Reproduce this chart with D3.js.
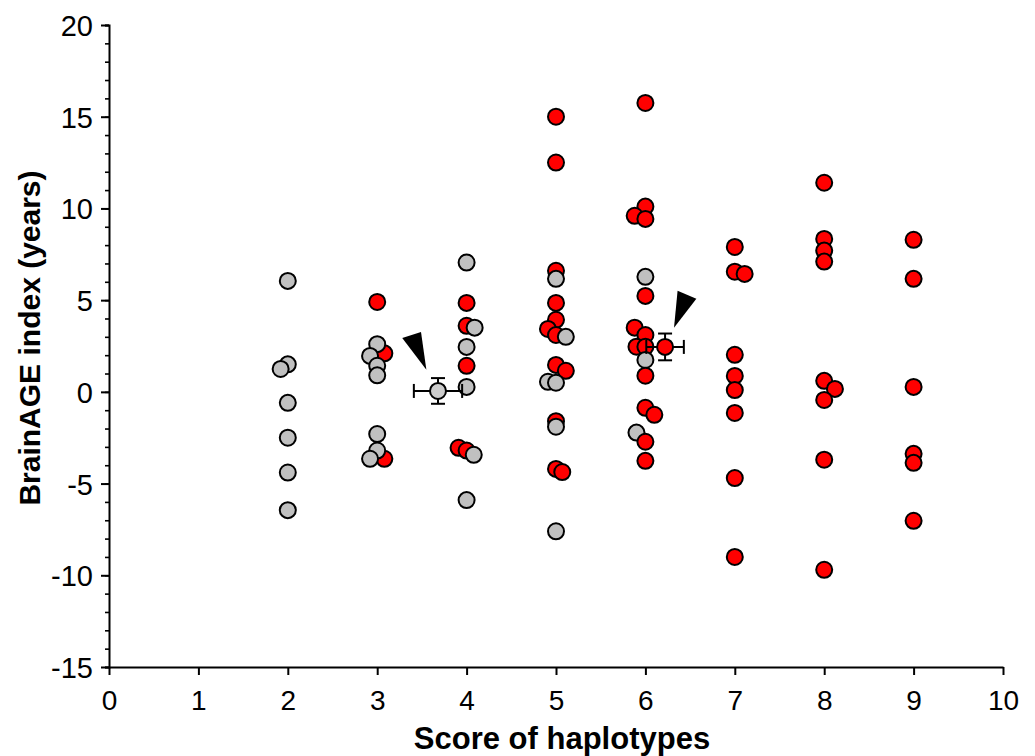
<!DOCTYPE html>
<html>
<head>
<meta charset="utf-8">
<script src="https://cdnjs.cloudflare.com/ajax/libs/d3/7.8.5/d3.min.js"></script>
<style>
  body { margin: 0; background: #fff; }
  svg { display: block; font-family: "Liberation Sans", Arial, sans-serif; }
</style>
</head>
<body>
<svg id="chart" width="1035" height="756"></svg>
<script>
// score of haplotypes (with the small horizontal jitter of the original plot)
var scores = [
  2, 2, 1.92, 2, 2, 2, 2,
  3, 3.08, 3, 2.92, 3, 3, 3.08, 3, 3, 2.92,
  4, 4, 4, 4.09, 4, 4, 4, 3.91, 4, 4.08, 4,
  5, 5, 5, 5, 5, 5, 4.91, 5, 5.11, 5, 5.11, 4.91, 5, 5, 5, 5, 5.07, 5,
  6, 6, 5.88, 6, 6, 6, 5.88, 6, 5.9, 6, 6, 6, 6, 6.1, 5.9, 6, 6,
  7, 7, 7.11, 7, 7, 7, 7, 7, 7,
  8, 8, 8, 8, 8, 8.12, 8, 8, 8,
  9, 9, 9, 9, 9, 9
];
// BrainAGE index (years)
var brainAge = [
  6.05, 1.5, 1.25, -0.6, -2.5, -4.4, -6.45,
  4.9, 2.1, 2.6, 1.96, 1.42, 0.9, -3.65, -2.3, -3.2, -3.65,
  7.05, 4.85, 3.6, 3.5, 2.45, 1.42, 0.27, -3.05, -3.2, -3.43, -5.9,
  15.0, 12.5, 6.6, 6.16, 4.85, 3.93, 3.43, 3.1, 3.0, 1.47, 1.15, 0.55, 0.5, -1.6, -1.9, -4.2, -4.37, -7.6,
  15.75, 10.1, 9.6, 9.43, 6.27, 5.23, 3.5, 3.1, 2.46, 2.46, 1.74, 0.88, -0.87, -1.25, -2.22, -2.72, -3.76,
  7.9, 6.55, 6.43, 2.02, 0.87, 0.1, -1.15, -4.7, -9.0,
  11.4, 8.34, 7.7, 7.1, 0.6, 0.16, -0.44, -3.7, -9.7,
  8.29, 6.16, 0.27, -3.38, -3.87, -7.03
];
// g = grey circles, r = red circles
var group = [
  "g","g","g","g","g","g","g",
  "r","r","g","g","g","g","r","g","g","g",
  "g","r","r","g","g","r","g","r","r","g","g",
  "r","r","r","g","r","r","r","r","g","r","r","g","g","r","g","r","r","g",
  "r","r","r","r","g","r","r","r","r","r","g","r","r","r","g","r","r",
  "r","r","r","r","r","r","r","r","r",
  "r","r","r","r","r","r","r","r","r",
  "r","r","r","r","r","r"
];

// group means with error (x, y, x error, y error)
var meanGroup = ["g", "r"];
var meanScore = [3.68, 6.22];
var meanAge = [0.05, 2.45];
var meanScoreErr = [0.27, 0.21];
var meanAgeErr = [0.7, 0.73];

// arrow-head annotations pointing at the means, [x, y] in data units
var arrows = [
  [[3.28, 2.94], [3.49, 3.27], [3.55, 1.2]],
  [[6.36, 5.51], [6.57, 5.07], [6.32, 3.49]]
];

var xTicks = [0, 1, 2, 3, 4, 5, 6, 7, 8, 9, 10];
var yTicks = [-15, -10, -5, 0, 5, 10, 15, 20];

var fillOf = { g: "#c0c0c0", r: "#ff0000" };
var fontFam = "'Liberation Sans', Arial, sans-serif";

var svg = d3.select("#chart");

var x = d3.scaleLinear().domain([0, 10]).range([109, 1003]);
var y = d3.scaleLinear().domain([-15, 20]).range([667, 25]);

// y axis: minor ticks every year, labelled majors every 5
var yMinor = d3.range(-15, 21, 1);
var yAxisG = svg.append("g").attr("transform", "translate(" + x(0) + ",0)");
yAxisG.call(d3.axisLeft(y).tickValues(yMinor).tickSize(4).tickFormat(""));
yAxisG.selectAll(".tick line").attr("stroke-width", 1.6);
yAxisG.select(".domain").attr("stroke-width", 2);

var yMajor = svg.append("g").attr("transform", "translate(" + x(0) + ",0)")
  .call(d3.axisLeft(y).tickValues(yTicks).tickSize(8).tickPadding(8));
yMajor.select(".domain").remove();
yMajor.selectAll(".tick line").attr("stroke-width", 2);
yMajor.selectAll(".tick text")
  .style("font-size", "29px").style("font-family", fontFam).attr("fill", "#000")
  .attr("dy", "0.36em")
  .text(function(d) { return d < 0 ? "-" + Math.abs(d) : d; });

// x axis
var xAxisG = svg.append("g").attr("transform", "translate(0," + y(-15) + ")")
  .call(d3.axisBottom(x).tickValues(xTicks).tickSize(8).tickPadding(15).tickSizeOuter(0));
xAxisG.select(".domain").attr("stroke-width", 2);
xAxisG.selectAll(".tick line").attr("stroke-width", 2);
xAxisG.selectAll(".tick text")
  .style("font-size", "28px").style("font-family", fontFam).attr("fill", "#000");

// axis titles
svg.append("text")
  .attr("x", 562).attr("y", 749)
  .attr("text-anchor", "middle")
  .style("font-size", "31px").attr("font-weight", "bold")
  .text("Score of haplotypes");

svg.append("text")
  .attr("transform", "translate(40,338) rotate(-90)")
  .attr("text-anchor", "middle")
  .style("font-size", "30px").attr("font-weight", "bold")
  .text("BrainAGE index (years)");

// individual points
svg.append("g").selectAll("circle")
  .data(d3.range(scores.length))
  .join("circle")
  .attr("cx", function(i) { return x(scores[i]); })
  .attr("cy", function(i) { return y(brainAge[i]); })
  .attr("r", 8)
  .attr("fill", function(i) { return fillOf[group[i]]; })
  .attr("stroke", "#000")
  .attr("stroke-width", 2);

// mean markers with error bars
var means = svg.append("g").selectAll("g")
  .data(d3.range(meanGroup.length))
  .join("g");

means.each(function(i) {
  var g = d3.select(this);
  var cx = x(meanScore[i]), cy = y(meanAge[i]);
  var x0 = x(meanScore[i] - meanScoreErr[i]), x1 = x(meanScore[i] + meanScoreErr[i]);
  var y0 = y(meanAge[i] - meanAgeErr[i]), y1 = y(meanAge[i] + meanAgeErr[i]);
  var cap = 7;
  var segs = [
    [x0, cy, x1, cy], [cx, y0, cx, y1],
    [x0, cy - cap, x0, cy + cap], [x1, cy - cap, x1, cy + cap],
    [cx - cap, y0, cx + cap, y0], [cx - cap, y1, cx + cap, y1]
  ];
  g.selectAll("line").data(segs).join("line")
    .attr("x1", function(s) { return s[0]; })
    .attr("y1", function(s) { return s[1]; })
    .attr("x2", function(s) { return s[2]; })
    .attr("y2", function(s) { return s[3]; })
    .attr("stroke", "#000").attr("stroke-width", 2);
  g.append("circle")
    .attr("cx", cx).attr("cy", cy).attr("r", 8)
    .attr("fill", meanGroup[i] === "g" ? "#cccccc" : "#ff0000")
    .attr("stroke", "#000").attr("stroke-width", 2);
});

// arrow heads
svg.append("g").selectAll("path")
  .data(arrows)
  .join("path")
  .attr("d", function(a) {
    return "M" + a.map(function(p) { return x(p[0]) + "," + y(p[1]); }).join("L") + "Z";
  })
  .attr("fill", "#000");
</script>
</body>
</html>
